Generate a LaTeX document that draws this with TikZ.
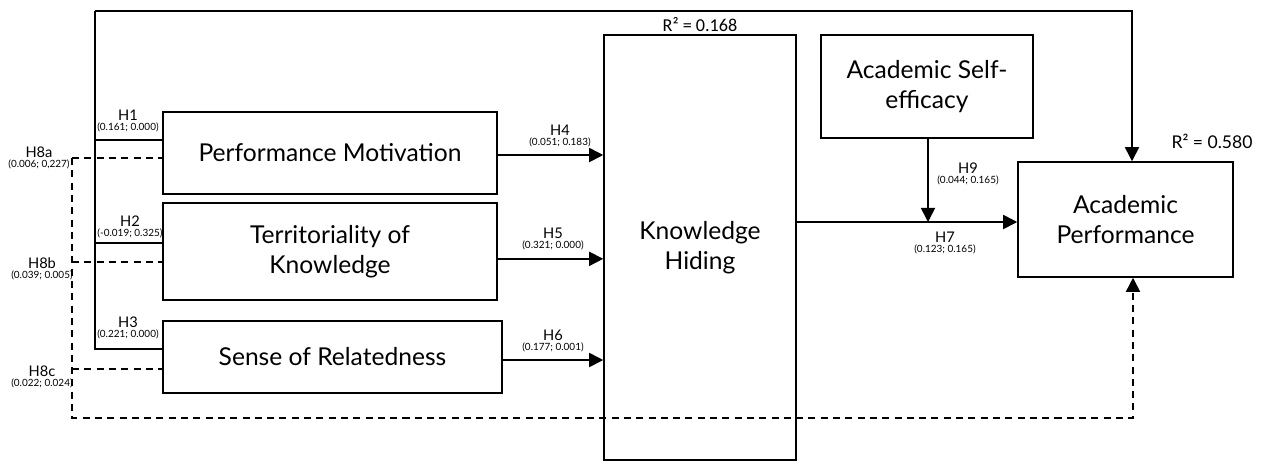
\documentclass[tikz,border=0pt]{standalone}
\usepackage{fontspec}
\setmainfont{Lato}
\newfontfamily\calfont{Carlito}
\usepackage{tikz}
\usetikzlibrary{arrows.meta,positioning,calc}

\tikzset{
  construct/.style={draw, line width=1.3pt, inner sep=2pt, align=center, font=\fontsize{21}{26}\selectfont},
  link/.style={line width=1.4pt},
  arr/.style={link, -{Triangle[length=12pt,width=12pt]}},
  dashlink/.style={link, dash pattern=on 6pt off 4.5pt},
  dasharr/.style={dashlink, -{Triangle[length=12pt,width=12pt]}},
  hname/.style={font=\fontsize{12.5}{13}\selectfont, inner sep=0pt},
  hval/.style={font=\fontsize{8.5}{9}\selectfont, inner sep=0pt}
}

\begin{document}
\begin{tikzpicture}[x=0.03cm, y=-0.03cm]
\useasboundingbox (0,0) rectangle (1262,462);
% constructs
\node[construct, minimum width=10.02cm, minimum height=2.46cm] (pm) at (330,153) {Performance Motivation};
\node[construct, minimum width=10.02cm, minimum height=2.91cm] (tk) at (330,251.5) {Territoriality of\\Knowledge};
\node[construct, minimum width=10.17cm, minimum height=2.16cm] (sr) at (332.5,357) {Sense of Relatedness};
\node[construct, minimum width=5.76cm, minimum height=12.75cm] (kh) at (700,247.5) {Knowledge\\Hiding};
\node[construct, minimum width=6.36cm, minimum height=3.09cm] (ase) at (927,86.5) {Academic Self-\\efficacy};
\node[construct, minimum width=6.45cm, minimum height=3.45cm] (ap) at (1125.5,219.5) {Academic\\Performance};
\node[font=\calfont\fontsize{15.5}{17}\selectfont, inner sep=0pt] (r2kh) at (700,25) {R² = 0.168};
\node[font=\fontsize{15}{17}\selectfont, inner sep=0pt] (r2ap) at (1212,141) {R² = 0.580};

% solid paths
\coordinate (trunk) at (95,11);
\coordinate (tr) at (1132,11);
\coordinate (c1) at (95,140);
\coordinate (c2) at (95,243);
\coordinate (c3) at (95,349);
\coordinate (mod) at (928,222);
\draw[arr] (trunk) -- (tr) -- (tr |- ap.north);
\draw[link] (trunk) -- (c3) -- (c3 -| sr.west);
\draw[link] (c1) -- (c1 -| pm.west);
\draw[link] (c2) -- (c2 -| tk.west);
\draw[arr] ([yshift=-0.06cm]pm.east) -- ([yshift=-0.06cm]pm.east -| kh.west);
\draw[arr] ([yshift=-0.22cm]tk.east) -- ([yshift=-0.22cm]tk.east -| kh.west);
\draw[arr] ([yshift=-0.09cm]sr.east) -- ([yshift=-0.09cm]sr.east -| kh.west);
\draw[arr] (ase.south -| mod) -- (mod);
\draw[arr] (kh.east |- mod) -- (ap.west |- mod);

% dashed paths
\coordinate (d8a) at (72,158);
\coordinate (d8b) at (72,262);
\coordinate (d8c) at (72,369);
\coordinate (dl) at (72,418);
\coordinate (dr) at (1133,418);
\draw[dasharr] (d8a) -- (dl) -- (dr) -- (dr |- ap.south);
\draw[dashlink] (d8a) -- (d8a -| pm.west);
\draw[dashlink] (d8b) -- (d8b -| tk.west);
\draw[dashlink] (d8c) -- (d8c -| sr.west);

% labels
\foreach \nm/\x/\y/\v in {H1/128/115/{(0.161; 0.000)}, H2/130/221/{(-0.019; 0.325)}, H3/128/322/{(0.221; 0.000)},
  H4/560/130/{(0.051; 0.183)}, H5/553/233/{(0.321; 0.000)}, H6/553/335/{(0.177; 0.001)},
  H7/945/237/{(0.123; 0.165)}, H9/968/168/{(0.044; 0.165)},
  H8a/39/152/{(0.006; 0,227)}, H8b/42/263/{(0.039; 0.005)}, H8c/42/371/{(0.022; 0.024)}} {
  \node[hname] (\nm) at (\x,\y) {\nm};
  \node[hval, below=1.5pt of \nm] (v\nm) {\v};
}
\end{tikzpicture}
\end{document}
